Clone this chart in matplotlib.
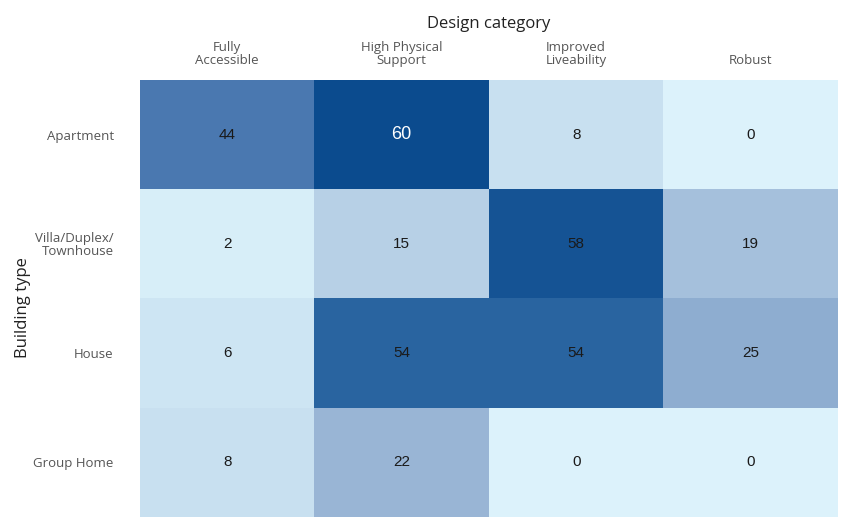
import matplotlib
matplotlib.use("Agg")
import matplotlib.pyplot as plt
import numpy as np
from matplotlib.colors import LinearSegmentedColormap

design_categories = ["Fully\nAccessible", "High Physical\nSupport", "Improved\nLiveability", "Robust"]
building_types = ["Apartment", "Villa/Duplex/\nTownhouse", "House", "Group Home"]
values = [
    [44, 60, 8, 0],
    [2, 15, 58, 19],
    [6, 54, 54, 25],
    [8, 22, 0, 0],
]

data = np.array(values)
cmap = LinearSegmentedColormap.from_list(
    "blues",
    [(0.0, "#dcf2fb"), (0.25, "#b7d0e6"), (0.3667, "#98b5d5"),
     (0.7333, "#4a78b0"), (0.9, "#2a64a0"), (1.0, "#0b4b8e")])

fig = plt.figure(figsize=(8.54, 5.19), dpi=100)
ax = fig.add_axes([0.164, 0.004, 0.817, 0.842])
ax.pcolormesh(np.arange(5), np.arange(5), data, cmap=cmap, vmin=0, vmax=60,
              edgecolors="none")
ax.set_xlim(0, 4)
ax.set_ylim(4, 0)

for i in range(4):
    for j in range(4):
        v = data[i, j]
        if v >= 60:
            ax.text(j + 0.5, i + 0.5, str(v), ha="center", va="center",
                    color="white", fontsize=13, family="Liberation Sans")
        else:
            ax.text(j + 0.5, i + 0.5, str(v), ha="center", va="center",
                    color="#1a1a1a", fontsize=11, family="Liberation Sans")

ax.xaxis.tick_top()
ax.xaxis.set_label_position("top")
ax.set_xticks(np.arange(4) + 0.5)
ax.set_xticklabels(design_categories, fontsize=9.5, color="#555555",
                   family="Open Sans", linespacing=1.0)
ax.set_yticks(np.arange(4) + 0.5)
ax.set_yticklabels(building_types, fontsize=9.5, color="#555555",
                   family="Open Sans", linespacing=1.0)
ax.tick_params(axis="y", length=0, pad=19)
ax.tick_params(axis="x", length=0, pad=9)
ax.set_xlabel("Design category", fontsize=12, color="#222222", family="Open Sans", labelpad=10)
ax.set_ylabel("Building type", fontsize=12, color="#222222", family="Open Sans")
ax.yaxis.set_label_coords(-0.157, 0.48)
for s in ax.spines.values():
    s.set_visible(False)

fig.savefig("out.png", dpi=100)
